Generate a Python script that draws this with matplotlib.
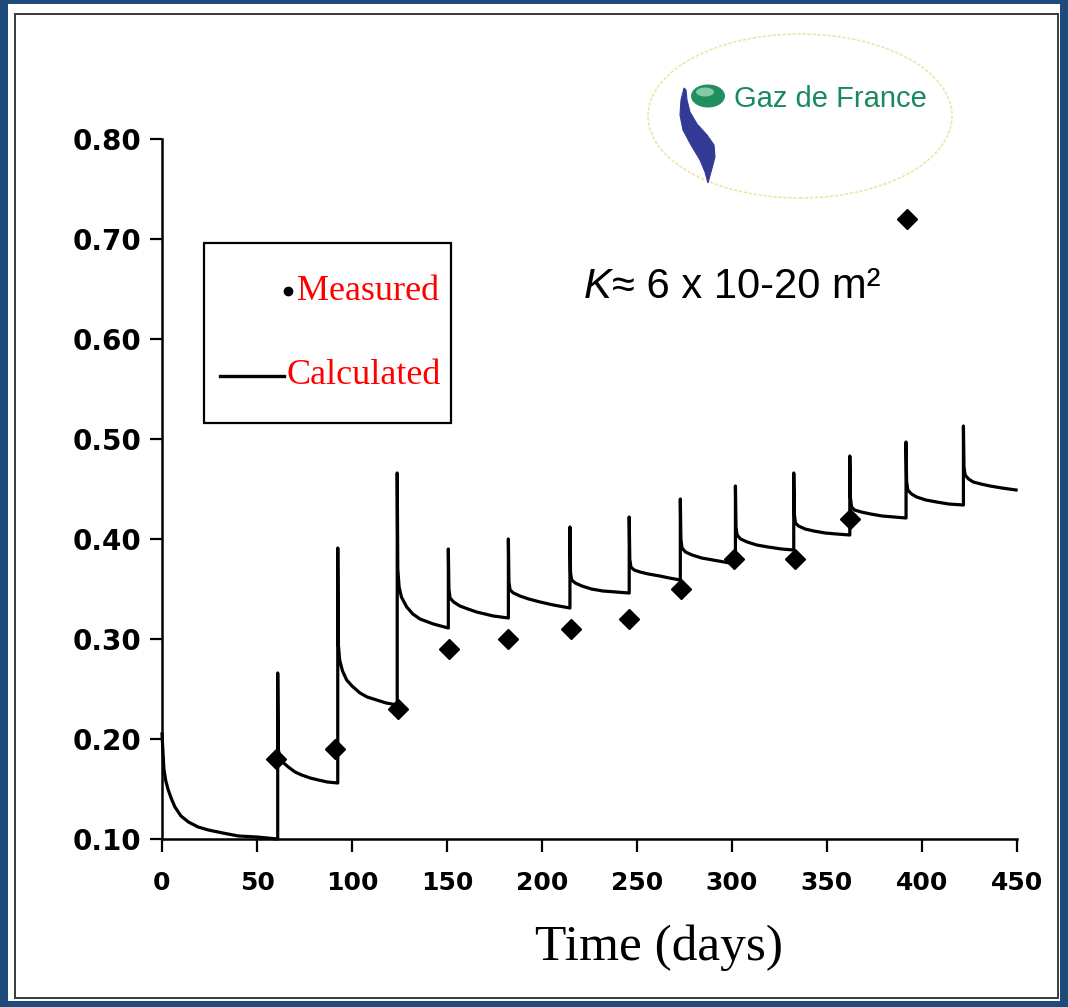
import matplotlib
matplotlib.use("Agg")
import matplotlib.pyplot as plt
from matplotlib.patches import Rectangle, Ellipse, Polygon
from matplotlib.lines import Line2D

# ---- measured points (days, value) ----
measured_days = [60, 91, 124, 151, 182, 215, 246, 273, 301, 333, 362, 392]
measured_values = [0.18, 0.19, 0.23, 0.29, 0.30, 0.31, 0.32, 0.35, 0.38, 0.38, 0.42, 0.72]

# ---- calculated curve, one row per injection cycle ----
calc_days = [
    0, 1, 2, 3.3, 5, 6.8, 10, 13.9, 19, 24.4, 32, 40.2, 50, 60.9,
    60.9, 61.2, 62, 64, 66.5, 70, 73.5, 78, 82.3, 87, 92.5,
    92.5, 92.8, 93.5, 95, 97.2, 100, 104.2, 108, 113, 118, 123.8,
    123.8, 124.1, 124.8, 126, 128.8, 132, 135.8, 142.8, 150.7,
    150.7, 151, 151.6, 153.5, 156.8, 161, 165.6, 174.4, 182.3,
    182.3, 182.6, 183.2, 185, 188.4, 193, 199, 206, 214.7,
    214.7, 215, 215.6, 217.5, 221, 226, 232, 239, 245.9,
    245.9, 246.2, 246.8, 248.5, 251.6, 256, 262, 267, 272.8,
    272.8, 273.1, 273.7, 275.5, 279, 284, 290, 296, 301.8,
    301.8, 302.1, 302.7, 304.5, 308, 313, 319, 326, 332.5,
    332.5, 332.8, 333.4, 335, 338.5, 343, 349, 355, 362,
    362, 362.3, 362.9, 364.5, 368, 373, 379, 385, 391.6,
    391.6, 391.9, 392.5, 394.5, 397.2, 402, 407.7, 414, 421.8,
    421.8, 422.1, 422.7, 424.5, 427, 431, 435.8, 442, 449.5,
]
calc_values = [
    0.205, 0.170, 0.158, 0.149, 0.140, 0.132, 0.123, 0.117, 0.112, 0.109, 0.106, 0.103, 0.102, 0.100,
    0.266, 0.190, 0.181, 0.176, 0.172, 0.167, 0.164, 0.161, 0.159, 0.157, 0.156,
    0.391, 0.295, 0.279, 0.268, 0.259, 0.253, 0.246, 0.242, 0.239, 0.236, 0.234,
    0.466, 0.370, 0.352, 0.342, 0.332, 0.325, 0.320, 0.315, 0.311,
    0.390, 0.350, 0.341, 0.337, 0.333, 0.330, 0.327, 0.323, 0.321,
    0.400, 0.357, 0.349, 0.346, 0.343, 0.340, 0.337, 0.334, 0.331,
    0.412, 0.367, 0.359, 0.356, 0.353, 0.350, 0.348, 0.347, 0.346,
    0.422, 0.380, 0.372, 0.369, 0.367, 0.365, 0.363, 0.361, 0.359,
    0.440, 0.400, 0.391, 0.387, 0.384, 0.381, 0.379, 0.377, 0.375,
    0.453, 0.412, 0.404, 0.400, 0.397, 0.394, 0.392, 0.390, 0.389,
    0.466, 0.425, 0.416, 0.413, 0.410, 0.408, 0.406, 0.405, 0.404,
    0.483, 0.442, 0.432, 0.429, 0.427, 0.425, 0.423, 0.422, 0.421,
    0.497, 0.458, 0.449, 0.445, 0.442, 0.439, 0.437, 0.435, 0.434,
    0.513, 0.472, 0.464, 0.460, 0.457, 0.455, 0.453, 0.451, 0.449,
]

x_ticks = [0, 50, 100, 150, 200, 250, 300, 350, 400, 450]
y_ticks = [0.10, 0.20, 0.30, 0.40, 0.50, 0.60, 0.70, 0.80]

W, H = 1068, 1007
fig = plt.figure(figsize=(W / 100, H / 100), dpi=100)


def px(x, y):
    """Pixel position (from top-left) to figure fraction."""
    return x / W, 1 - y / H


# slide frame: blue border, white page, thin dark rule
fig.patches.append(Rectangle((0, 0), 1, 1, transform=fig.transFigure,
                             facecolor="#1f4a7c", edgecolor="none", zorder=-10))
x0, y0 = px(8, 1001)
x1, y1 = px(1060, 4)
fig.patches.append(Rectangle((x0, y0), x1 - x0, y1 - y0, transform=fig.transFigure,
                             facecolor="white", edgecolor="none", zorder=-9))
x0, y0 = px(15, 998)
x1, y1 = px(1058, 14)
fig.patches.append(Rectangle((x0, y0), x1 - x0, y1 - y0, transform=fig.transFigure,
                             facecolor="none", edgecolor="#3a3a3a", lw=1.4, zorder=-8))

# main axes
left, bottom = px(162, 839)
right, top = px(1017, 139)
ax = fig.add_axes([left, bottom, right - left, top - bottom])
ax.set_facecolor("none")
ax.plot(calc_days, calc_values, color="black", lw=2.3, solid_joinstyle="round",
        clip_on=False, zorder=3)
ax.plot(measured_days, measured_values, linestyle="none", marker="D", ms=10,
        color="black", clip_on=False, zorder=4)

ax.set_xlim(0, 450)
ax.set_ylim(0.10, 0.80)
ax.set_xticks(x_ticks)
ax.set_yticks(y_ticks)
ax.set_yticklabels([f"{v:.2f}" for v in y_ticks])
for s in ("top", "right"):
    ax.spines[s].set_visible(False)
for s in ("left", "bottom"):
    ax.spines[s].set_linewidth(1.8)
ax.tick_params(axis="both", direction="out", length=9, width=1.6)
ax.tick_params(axis="y", pad=6, labelsize=20)
ax.tick_params(axis="x", pad=14, labelsize=18)
for lab in ax.get_xticklabels() + ax.get_yticklabels():
    lab.set_fontfamily("DejaVu Sans")
    lab.set_fontweight("bold")

# legend box
lx0, ly0 = px(204, 423)
lx1, ly1 = px(451, 243)
fig.patches.append(Rectangle((lx0, ly0), lx1 - lx0, ly1 - ly0, transform=fig.transFigure,
                             facecolor="white", edgecolor="black", lw=1.6, zorder=5))
mx, my = px(288, 291)
fig.lines.append(Line2D([mx], [my], marker="o", ms=6, color="black",
                        transform=fig.transFigure, zorder=6))
ax_, ay_ = px(220, 376)
bx_, _ = px(284, 376)
fig.lines.append(Line2D([ax_, bx_], [ay_, ay_], color="black", lw=2.4,
                        transform=fig.transFigure, zorder=6))
tx, ty = px(297, 291)
fig.text(tx, ty, "Measured", color="red", fontsize=26, family="Liberation Serif",
         va="center", ha="left", zorder=7)
tx, ty = px(287, 376)
fig.text(tx, ty, "Calculated", color="red", fontsize=26, family="Liberation Serif",
         va="center", ha="left", zorder=7)

# permeability annotation
kx, ky = px(584, 287)
fig.text(kx, ky, "K", fontsize=30, family="Liberation Sans", style="italic",
         va="center", ha="left")
kx, ky = px(612, 287)
fig.text(kx, ky, "\u2248 6 x 10-20 m\u00b2", fontsize=30, family="Liberation Sans",
         va="center", ha="left")

# x-axis title
tx, ty = px(659, 948)
fig.text(tx, ty, "Time (days)", fontsize=37, family="Liberation Serif",
         va="center", ha="center")

# Gaz de France logo
ex, ey = px(800, 116)
fig.patches.append(Ellipse((ex, ey), 304 / W, 164 / H, transform=fig.transFigure,
                           facecolor="white", edgecolor="#ede6a8", lw=1.2,
                           linestyle=(0, (2, 1)), zorder=2))
swoosh = [(684, 88), (681, 100), (680, 115), (683, 130), (691, 145), (700, 160),
          (705, 172), (708, 183), (711, 172), (715, 157), (714, 145), (707, 135),
          (697, 124), (690, 112), (687, 100), (686, 90)]
fig.patches.append(Polygon([px(a, b) for a, b in swoosh], closed=True,
                           transform=fig.transFigure, facecolor="#323a96",
                           edgecolor="#323a96", lw=0.8, zorder=3))
gx, gy = px(708, 96)
fig.patches.append(Ellipse((gx, gy), 34 / W, 23 / H, transform=fig.transFigure,
                           facecolor="#1f8f5f", edgecolor="none", zorder=4))
hx, hy = px(705, 92)
fig.patches.append(Ellipse((hx, hy), 18 / W, 9 / H, transform=fig.transFigure,
                           facecolor="#9fd8b8", edgecolor="none", alpha=0.8, zorder=5))
tx, ty = px(734, 99)
fig.text(tx, ty, "Gaz de France", color="#1a8a5e", fontsize=21,
         family="Liberation Sans", va="center", ha="left", zorder=6)

fig.savefig("out.png", dpi=100)
